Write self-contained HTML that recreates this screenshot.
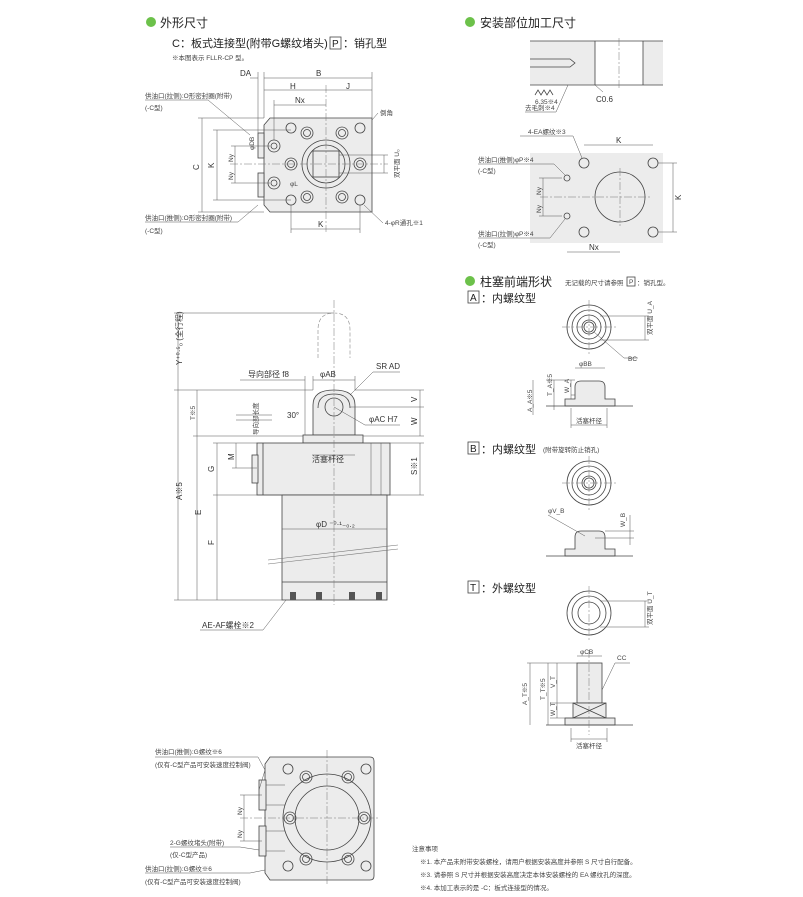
<!DOCTYPE html>
<html><head><meta charset="utf-8"><style>
html,body{margin:0;padding:0;background:#fff}
svg{display:block;font-family:"Liberation Sans","Noto Sans CJK SC",sans-serif}
.s{stroke:#444;stroke-width:0.8;fill:none}
.g{fill:#ececec;stroke:#444;stroke-width:0.8}
.c{stroke:#777;stroke-width:0.5;stroke-dasharray:8 2 2 2;fill:none}
.d{stroke:#555;stroke-width:0.5;fill:none}
.t{font-size:8px;fill:#333}
.sm{font-size:6.5px;fill:#444}
.h{font-size:12px;fill:#222}
</style></head><body>
<svg width="803" height="897" viewBox="0 0 803 897" xmlns="http://www.w3.org/2000/svg">
<!-- headers -->
<circle cx="151" cy="22" r="5" fill="#6cc14a"/><text x="160" y="27" class="h">外形尺寸</text>
<text x="172" y="47" style="font-size:11px" fill="#222">C：板式连接型(附带G螺纹堵头)</text>
<rect x="330" y="37" width="11" height="12" class="s"/><text x="332" y="47" style="font-size:10px" fill="#222">P</text>
<text x="343" y="47" style="font-size:11px" fill="#222">：销孔型</text>
<text x="172" y="60" class="sm">※本图表示 FLLR-CP 型。</text>

<circle cx="470" cy="22" r="5" fill="#6cc14a"/><text x="480" y="27" class="h">安装部位加工尺寸</text>
<circle cx="470" cy="281" r="5" fill="#6cc14a"/><text x="480" y="286" class="h">柱塞前端形状</text>
<text x="565" y="285" class="sm">无记载的尺寸请参照</text><rect x="627" y="277" width="8" height="9" class="s"/><text x="629" y="284" class="sm">P</text><text x="637" y="285" class="sm">：销孔型。</text>

<!-- TOP-LEFT plate view -->
<path class="g" d="M270 118 H372 V212 H270 L264 205 V125 Z"/>
<rect x="258" y="133" width="6" height="25" class="g"/><rect x="258" y="173" width="6" height="24" class="g"/>
<circle cx="326" cy="164" r="24" class="s"/><circle cx="326" cy="164" r="19" class="s"/>
<rect x="313" y="151" width="26" height="26" class="s"/>
<g class="s"><circle cx="291" cy="128" r="5"/><circle cx="360" cy="128" r="5"/><circle cx="291" cy="200" r="5"/><circle cx="360" cy="200" r="5"/></g>
<g class="s"><circle cx="307" cy="133" r="6"/><circle cx="307" cy="133" r="3.5"/><circle cx="342" cy="133" r="6"/><circle cx="342" cy="133" r="3.5"/>
<circle cx="307" cy="197" r="6"/><circle cx="307" cy="197" r="3.5"/><circle cx="342" cy="197" r="6"/><circle cx="342" cy="197" r="3.5"/>
<circle cx="291" cy="164" r="6"/><circle cx="291" cy="164" r="3.5"/><circle cx="360" cy="164" r="6"/><circle cx="360" cy="164" r="3.5"/>
<circle cx="274" cy="146" r="6"/><circle cx="274" cy="146" r="3"/><circle cx="274" cy="183" r="6"/><circle cx="274" cy="183" r="3"/></g>
<line x1="326" y1="85" x2="326" y2="232" class="c"/><line x1="230" y1="164" x2="388" y2="164" class="c"/>
<g class="d">
<line x1="264" y1="78" x2="372" y2="78"/><line x1="250" y1="78" x2="258" y2="78"/><line x1="264" y1="72" x2="264" y2="118"/><line x1="258" y1="72" x2="258" y2="133"/><line x1="372" y1="72" x2="372" y2="118"/>
<line x1="264" y1="90" x2="372" y2="90"/><line x1="274" y1="105" x2="326" y2="105"/><line x1="274" y1="100" x2="274" y2="140"/>
<line x1="202" y1="118" x2="202" y2="212"/><line x1="198" y1="118" x2="264" y2="118"/><line x1="198" y1="212" x2="264" y2="212"/>
<line x1="217" y1="130" x2="217" y2="200"/><line x1="213" y1="130" x2="291" y2="130"/><line x1="213" y1="200" x2="291" y2="200"/>
<line x1="235" y1="146" x2="235" y2="183"/><line x1="231" y1="146" x2="270" y2="146"/><line x1="231" y1="183" x2="270" y2="183"/>
<line x1="291" y1="229" x2="360" y2="229"/><line x1="291" y1="205" x2="291" y2="233"/><line x1="360" y1="205" x2="360" y2="233"/>
<line x1="384" y1="155" x2="384" y2="173"/><line x1="339" y1="155" x2="388" y2="155"/><line x1="339" y1="173" x2="388" y2="173"/>
<line x1="250" y1="135" x2="208" y2="100"/><line x1="145" y1="100" x2="208" y2="100"/>
<line x1="258" y1="205" x2="238" y2="222"/><line x1="145" y1="222" x2="238" y2="222"/>
<line x1="372" y1="120" x2="378" y2="113"/><line x1="364" y1="205" x2="383" y2="223"/>
</g>
<text x="240" y="76" class="t">DA</text><text x="316" y="76" class="t">B</text><text x="290" y="89" class="t">H</text><text x="346" y="89" class="t">J</text><text x="295" y="103" class="t">Nx</text>
<text x="380" y="115" class="sm">倒角</text><text x="385" y="225" class="sm">4-φR通孔※1</text><text x="318" y="227" class="t">K</text>
<text x="145" y="98" class="sm">供油口(拉侧):O形密封圈(附带)</text><text x="145" y="110" class="sm">(-C型)</text>
<text x="145" y="220" class="sm">供油口(推侧):O形密封圈(附带)</text><text x="145" y="233" class="sm">(-C型)</text>
<text transform="translate(199,170) rotate(-90)" class="t">C</text><text transform="translate(214,168) rotate(-90)" class="t">K</text>
<text transform="translate(233,162) rotate(-90)" class="sm">Ny</text><text transform="translate(233,180) rotate(-90)" class="sm">Ny</text>
<text transform="translate(254,150) rotate(-90)" class="sm">φDB</text><text transform="translate(399,178) rotate(-90)" class="sm">双平面 U₀</text>
<text x="290" y="186" class="sm">φL</text>

<!-- MAIN side view -->
<path d="M318 358 V330 Q318 313 334 313 Q350 313 350 330 V358" fill="none" stroke="#888" stroke-width="0.6" stroke-dasharray="4 2"/>
<path class="g" d="M313 435 V405 Q313 390 334 390 Q355 390 355 405 V435 Z"/>
<circle cx="334" cy="407" r="9" class="s"/><path class="s" d="M318 408 Q318 394 334 394 Q350 394 350 408"/>
<rect x="303" y="435" width="60" height="8" class="g"/>
<rect x="257" y="443" width="133" height="52" class="g"/>
<line x1="263" y1="443" x2="263" y2="495" class="s"/><line x1="371" y1="443" x2="371" y2="495" class="d"/><line x1="381" y1="443" x2="381" y2="495" class="d"/>
<rect x="252" y="455" width="6" height="28" class="g"/>
<rect x="282" y="495" width="105" height="105" class="g"/>
<line x1="282" y1="582" x2="387" y2="582" class="s"/>
<g fill="#555"><rect x="290" y="592" width="6" height="8"/><rect x="316" y="592" width="6" height="8"/><rect x="349" y="592" width="6" height="8"/><rect x="376" y="592" width="6" height="8"/></g>
<path d="M268 560 L398 545 M268 564 L398 549" stroke="#777" stroke-width="0.6" fill="none"/>
<line x1="334" y1="300" x2="334" y2="605" class="c"/>
<g class="d">
<line x1="178" y1="313" x2="178" y2="600"/><line x1="174" y1="313" x2="334" y2="313"/><line x1="174" y1="390" x2="313" y2="390"/><line x1="174" y1="600" x2="282" y2="600"/>
<line x1="197" y1="390" x2="197" y2="600"/><line x1="193" y1="436" x2="303" y2="436"/>
<line x1="217" y1="443" x2="217" y2="600"/><line x1="213" y1="443" x2="257" y2="443"/><line x1="213" y1="495" x2="282" y2="495"/>
<line x1="236" y1="443" x2="236" y2="468"/><line x1="232" y1="468" x2="257" y2="468"/>
<line x1="420" y1="390" x2="420" y2="436"/><line x1="355" y1="390" x2="424" y2="390"/><line x1="350" y1="407" x2="424" y2="407"/><line x1="363" y1="436" x2="424" y2="436"/>
<line x1="420" y1="443" x2="420" y2="495"/><line x1="390" y1="443" x2="424" y2="443"/><line x1="387" y1="495" x2="424" y2="495"/>
<line x1="282" y1="529" x2="387" y2="529"/>
<line x1="313" y1="380" x2="355" y2="380"/><line x1="313" y1="376" x2="313" y2="390"/><line x1="355" y1="376" x2="355" y2="390"/>
<line x1="240" y1="380" x2="305" y2="380"/><line x1="305" y1="376" x2="305" y2="435"/>
<line x1="312" y1="455" x2="355" y2="455"/>
<line x1="334" y1="407" x2="365" y2="425"/><line x1="365" y1="425" x2="400" y2="425"/>
<line x1="350" y1="395" x2="373" y2="372"/><line x1="373" y1="372" x2="400" y2="372"/>
<line x1="286" y1="600" x2="263" y2="630"/><line x1="200" y1="630" x2="263" y2="630"/>
<line x1="236" y1="415" x2="272" y2="415"/><line x1="236" y1="420" x2="272" y2="420"/>
</g>
<text x="248" y="377" class="t">导向部径 f8</text><text x="320" y="377" class="t">φAB</text><text x="376" y="369" class="t">SR AD</text>
<text x="369" y="422" class="t">φAC H7</text><text x="287" y="418" class="t">30°</text>
<text x="312" y="462" class="t">活塞杆径</text><text x="316" y="527" class="t">φD ⁻⁰·¹₋₀.₂</text>
<text x="202" y="628" class="t">AE-AF螺栓※2</text>
<text transform="translate(182,365) rotate(-90)" class="t">Y⁺⁰·⁵₀ (全行程)</text>
<text transform="translate(182,500) rotate(-90)" class="t">A※5</text><text transform="translate(195,420) rotate(-90)" class="sm">T※5</text>
<text transform="translate(201,515) rotate(-90)" class="t">E</text><text transform="translate(214,545) rotate(-90)" class="t">F</text>
<text transform="translate(214,472) rotate(-90)" class="t">G</text><text transform="translate(234,460) rotate(-90)" class="t">M</text>
<text transform="translate(258,435) rotate(-90)" class="sm">导向部长度</text>
<text transform="translate(417,402) rotate(-90)" class="t">V</text><text transform="translate(417,425) rotate(-90)" class="t">W</text><text transform="translate(417,475) rotate(-90)" class="t">S※1</text>

<!-- RIGHT machining section -->
<rect x="530" y="41" width="133" height="44" fill="#ececec"/>
<rect x="595" y="41" width="48" height="44" fill="#fff"/>
<g class="s"><line x1="530" y1="41" x2="663" y2="41"/><line x1="530" y1="85" x2="663" y2="85"/><line x1="595" y1="41" x2="595" y2="85"/><line x1="643" y1="41" x2="643" y2="85"/>
<path d="M530 59 H570 L575 63 L570 67 H530"/></g>
<line x1="619" y1="38" x2="619" y2="88" class="c"/>
<path class="s" d="M535 95 l3 -5 l3 5 l3 -5 l3 5 l3 -5 l3 5"/>
<g class="d"><line x1="568" y1="85" x2="556" y2="112"/><line x1="525" y1="112" x2="556" y2="112"/><line x1="595" y1="85" x2="603" y2="92"/></g>
<text x="535" y="104" class="sm">6.35※4</text><text x="525" y="110" class="sm">去毛刺※4</text><text x="596" y="102" class="t">C0.6</text>

<rect x="530" y="153" width="133" height="90" fill="#ececec"/>
<circle cx="620" cy="197" r="25" fill="#fff" class="s"/>
<line x1="620" y1="168" x2="620" y2="226" class="c"/><line x1="540" y1="197" x2="650" y2="197" class="c"/>
<g class="s"><circle cx="584" cy="163" r="5"/><circle cx="653" cy="163" r="5"/><circle cx="584" cy="232" r="5"/><circle cx="653" cy="232" r="5"/><circle cx="567" cy="178" r="3"/><circle cx="567" cy="216" r="3"/></g>
<g class="d"><line x1="584" y1="145" x2="653" y2="145"/><line x1="673" y1="163" x2="673" y2="232"/><line x1="658" y1="163" x2="677" y2="163"/><line x1="658" y1="232" x2="677" y2="232"/>
<line x1="567" y1="252" x2="620" y2="252"/><line x1="543" y1="178" x2="543" y2="216"/><line x1="539" y1="178" x2="562" y2="178"/><line x1="539" y1="216" x2="562" y2="216"/>
<line x1="582" y1="158" x2="573" y2="136"/><line x1="520" y1="136" x2="573" y2="136"/>
<line x1="565" y1="175" x2="554" y2="164"/><line x1="478" y1="164" x2="554" y2="164"/>
<line x1="565" y1="219" x2="550" y2="238"/><line x1="478" y1="238" x2="550" y2="238"/></g>
<text x="528" y="134" class="sm">4-EA螺纹※3</text><text x="616" y="143" class="t">K</text><text transform="translate(681,200) rotate(-90)" class="t">K</text><text x="589" y="250" class="t">Nx</text>
<text x="478" y="162" class="sm">供油口(推侧)φP※4</text><text x="478" y="173" class="sm">(-C型)</text>
<text x="478" y="236" class="sm">供油口(拉侧)φP※4</text><text x="478" y="247" class="sm">(-C型)</text>
<text transform="translate(541,195) rotate(-90)" class="sm">Ny</text><text transform="translate(541,213) rotate(-90)" class="sm">Ny</text>

<!-- A type -->
<rect x="468" y="291" width="11" height="12" class="s"/><text x="470" y="301" style="font-size:10px" fill="#222">A</text><text x="481" y="302" style="font-size:11px" fill="#222">：内螺纹型</text>
<g class="s"><circle cx="589" cy="327" r="22"/><circle cx="589" cy="327" r="17"/><circle cx="589" cy="327" r="12"/><circle cx="589" cy="327" r="7"/><circle cx="589" cy="327" r="5"/></g>
<line x1="589" y1="300" x2="589" y2="354" class="c"/><line x1="562" y1="327" x2="616" y2="327" class="c"/>
<g class="d"><line x1="645" y1="316" x2="645" y2="340"/><line x1="600" y1="316" x2="649" y2="316"/><line x1="600" y1="340" x2="649" y2="340"/><line x1="594" y1="332" x2="624" y2="358"/><line x1="624" y1="358" x2="638" y2="358"/>
<line x1="575" y1="368" x2="605" y2="368"/><line x1="546" y1="380" x2="575" y2="380"/><line x1="554" y1="380" x2="554" y2="410"/><line x1="571" y1="380" x2="571" y2="400"/><line x1="533" y1="380" x2="533" y2="415"/>
<line x1="571" y1="395" x2="590" y2="395"/><line x1="571" y1="408" x2="571" y2="428"/><line x1="607" y1="408" x2="607" y2="428"/><line x1="571" y1="425" x2="607" y2="425"/></g>
<path class="g" d="M565 406 V399 H575 V387 Q575 381 581 381 H599 Q605 381 605 387 V399 H615 V406 Z"/>
<line x1="546" y1="406" x2="633" y2="406" class="s"/>
<text x="628" y="361" class="sm">BC</text><text x="579" y="366" class="sm">φBB</text><text x="576" y="423" class="sm">活塞杆径</text>
<text transform="translate(652,335) rotate(-90)" class="sm">双平面 U_A</text>
<text transform="translate(532,412) rotate(-90)" class="sm">A_A※5</text><text transform="translate(552,396) rotate(-90)" class="sm">T_A※5</text><text transform="translate(569,393) rotate(-90)" class="sm">W_A</text>

<!-- B type -->
<rect x="468" y="442" width="11" height="12" class="s"/><text x="470" y="452" style="font-size:10px" fill="#222">B</text><text x="481" y="453" style="font-size:11px" fill="#222">：内螺纹型</text><text x="543" y="452" class="sm">(附带旋转防止销孔)</text>
<g class="s"><circle cx="589" cy="483" r="22"/><circle cx="589" cy="483" r="17"/><circle cx="589" cy="483" r="12"/><circle cx="589" cy="483" r="7"/><circle cx="589" cy="483" r="5"/></g>
<line x1="589" y1="456" x2="589" y2="510" class="c"/><line x1="562" y1="483" x2="616" y2="483" class="c"/>
<path class="g" d="M565 556 V549 H575 V537 Q575 531 581 531 H599 Q605 531 605 537 V549 H615 V556 Z"/>
<line x1="546" y1="556" x2="633" y2="556" class="s"/>
<g class="d"><line x1="548" y1="515" x2="585" y2="536"/><line x1="630" y1="515" x2="630" y2="545"/><line x1="605" y1="531" x2="634" y2="531"/><line x1="595" y1="538" x2="634" y2="538"/></g>
<text x="548" y="513" class="sm">φV_B</text><text transform="translate(625,527) rotate(-90)" class="sm">W_B</text>

<!-- T type -->
<rect x="468" y="581" width="11" height="12" class="s"/><text x="470" y="591" style="font-size:10px" fill="#222">T</text><text x="481" y="592" style="font-size:11px" fill="#222">：外螺纹型</text>
<g class="s"><circle cx="589" cy="613" r="22"/><circle cx="589" cy="613" r="17"/><circle cx="589" cy="613" r="11"/></g>
<line x1="589" y1="586" x2="589" y2="640" class="c"/>
<g class="d"><line x1="645" y1="601" x2="645" y2="627"/><line x1="600" y1="601" x2="649" y2="601"/><line x1="600" y1="627" x2="649" y2="627"/></g>
<text transform="translate(652,625) rotate(-90)" class="sm">双平面 U_T</text>
<rect x="577" y="663" width="25" height="40" class="g"/><rect x="573" y="703" width="33" height="15" class="g"/>
<path class="s" d="M573 703 L606 718 M606 703 L573 718"/>
<rect x="565" y="718" width="50" height="7" class="g"/><line x1="546" y1="725" x2="633" y2="725" class="s"/>
<line x1="589" y1="650" x2="589" y2="735" class="c"/>
<g class="d"><line x1="577" y1="656" x2="602" y2="656"/><line x1="602" y1="690" x2="615" y2="663"/><line x1="615" y1="663" x2="630" y2="663"/>
<line x1="530" y1="663" x2="530" y2="725"/><line x1="548" y1="663" x2="548" y2="725"/><line x1="557" y1="663" x2="557" y2="703"/><line x1="557" y1="703" x2="557" y2="718"/>
<line x1="527" y1="663" x2="577" y2="663"/><line x1="550" y1="703" x2="573" y2="703"/><line x1="550" y1="718" x2="573" y2="718"/>
<line x1="571" y1="728" x2="571" y2="742"/><line x1="607" y1="728" x2="607" y2="742"/><line x1="571" y1="739" x2="607" y2="739"/></g>
<text x="580" y="654" class="sm">φCB</text><text x="617" y="660" class="sm">CC</text><text x="576" y="748" class="sm">活塞杆径</text>
<text transform="translate(527,705) rotate(-90)" class="sm">A_T※5</text><text transform="translate(545,700) rotate(-90)" class="sm">T_T※5</text>
<text transform="translate(555,688) rotate(-90)" class="sm">V_T</text><text transform="translate(555,716) rotate(-90)" class="sm">W_T</text>

<!-- bottom view -->
<path class="g" d="M270 757 H370 Q374 757 374 761 V876 Q374 880 370 880 H270 L265 873 V764 Z"/>
<rect x="259" y="780" width="7" height="30" class="g"/><rect x="259" y="826" width="7" height="30" class="g"/>
<g class="d"><line x1="266" y1="785" x2="285" y2="785"/><line x1="266" y1="805" x2="285" y2="805"/><line x1="266" y1="831" x2="285" y2="831"/><line x1="266" y1="851" x2="285" y2="851"/></g>
<g class="s"><circle cx="327" cy="818" r="44"/><circle cx="327" cy="818" r="32"/>
<circle cx="288" cy="769" r="5"/><circle cx="366" cy="769" r="5"/><circle cx="288" cy="866" r="5"/><circle cx="366" cy="866" r="5"/>
<circle cx="306" cy="777" r="6"/><circle cx="306" cy="777" r="3.5"/><circle cx="348" cy="777" r="6"/><circle cx="348" cy="777" r="3.5"/>
<circle cx="306" cy="859" r="6"/><circle cx="306" cy="859" r="3.5"/><circle cx="348" cy="859" r="6"/><circle cx="348" cy="859" r="3.5"/>
<circle cx="290" cy="818" r="6"/><circle cx="290" cy="818" r="3.5"/><circle cx="364" cy="818" r="6"/><circle cx="364" cy="818" r="3.5"/></g>
<line x1="327" y1="750" x2="327" y2="885" class="c"/><line x1="240" y1="818" x2="378" y2="818" class="c"/>
<g class="d"><line x1="244" y1="795" x2="244" y2="841"/><line x1="240" y1="795" x2="262" y2="795"/><line x1="240" y1="841" x2="262" y2="841"/>
<line x1="259" y1="790" x2="265" y2="770"/><line x1="265" y1="770" x2="258" y2="757"/><line x1="155" y1="757" x2="258" y2="757"/>
<line x1="259" y1="850" x2="240" y2="847"/><line x1="170" y1="847" x2="240" y2="847"/>
<line x1="265" y1="870" x2="250" y2="873"/><line x1="145" y1="873" x2="250" y2="873"/></g>
<text x="155" y="754" class="sm">供油口(推侧):G螺纹※6</text><text x="155" y="767" class="sm">(仅有-C型产品可安装速度控制阀)</text>
<text transform="translate(242,815) rotate(-90)" class="sm">Ny</text><text transform="translate(242,838) rotate(-90)" class="sm">Ny</text>
<text x="170" y="845" class="sm">2-G螺纹堵头(附带)</text><text x="170" y="857" class="sm">(仅-C型产品)</text>
<text x="145" y="871" class="sm">供油口(拉侧):G螺纹※6</text><text x="145" y="884" class="sm">(仅有-C型产品可安装速度控制阀)</text>

<!-- notes -->
<text x="412" y="851" class="sm">注意事项</text>
<text x="420" y="864" class="sm">※1. 本产品未附带安装螺栓，请用户根据安装高度并参照 S 尺寸自行配备。</text>
<text x="420" y="877" class="sm">※3. 请参照 S 尺寸并根据安装高度决定本体安装螺栓的 EA 螺纹孔的深度。</text>
<text x="420" y="890" class="sm">※4. 本加工表示的是 -C：板式连接型的情况。</text>
</svg>
</body></html>
